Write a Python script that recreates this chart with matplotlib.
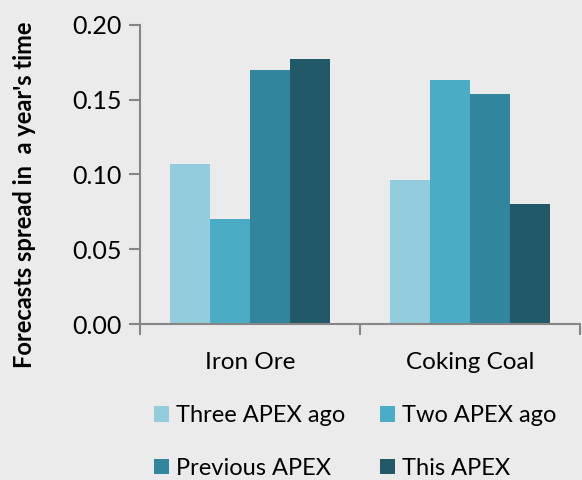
import matplotlib
matplotlib.use("Agg")
import matplotlib.pyplot as plt
import numpy as np
from matplotlib.patches import Patch

categories = ["Iron Ore", "Coking Coal"]
series_names = ["Three APEX ago", "Two APEX ago", "Previous APEX", "This APEX"]
three_ago = [0.107, 0.0963]
two_ago = [0.0702, 0.1632]
previous = [0.1697, 0.1538]
this_apex = [0.177, 0.0805]
yticks = [0.00, 0.05, 0.10, 0.15, 0.20]
colors = ["#93CDDD", "#4BACC6", "#31859C", "#215968"]

plt.rcParams['font.family'] = ['Lato', 'DejaVu Sans']
bg = "#EBEBEB"
fig = plt.figure(figsize=(5.82, 4.8), dpi=100, facecolor=bg)
ax = fig.add_axes([0.2405, 0.325, 0.7561, 0.623])
ax.set_facecolor(bg)

series = [three_ago, two_ago, previous, this_apex]
x = np.arange(len(categories))
w = 0.1818
for i, (vals, c, name) in enumerate(zip(series, colors, series_names)):
    ax.bar(x + (i - 1.5) * w, vals, width=w, color=c, label=name, linewidth=0)

ax.set_xlim(-0.5, len(categories) - 0.5)
ax.set_ylim(0, 0.20)
ax.set_yticks(yticks)
ax.set_yticklabels([f"{v:.2f}" for v in yticks])
ax.set_xticks([-0.5, 0.5, 1.5])
ax.set_xticklabels([])
ax.set_xticks(x, minor=True)
ax.set_xticklabels(categories, minor=True)
ax.tick_params(axis='x', which='minor', length=0, pad=20, labelsize=17.5)
ax.tick_params(axis='x', which='major', length=8, width=1.5, color="#868686", direction='out')
ax.tick_params(axis='y', length=8, width=1.5, color="#868686", labelsize=18, pad=5)
for s in ['top', 'right']:
    ax.spines[s].set_visible(False)
for s in ['left', 'bottom']:
    ax.spines[s].set_color("#868686")
    ax.spines[s].set_linewidth(1.5)

ax.set_ylabel("Forecasts spread in  a year's time", fontsize=17, fontweight='bold')
ax.yaxis.set_label_coords(-0.237, 0.431)

order = [0, 2, 1, 3]
handles = [Patch(facecolor=colors[i], edgecolor='none') for i in order]
labels = [series_names[i] for i in order]
fig.legend(handles, labels, loc='upper left', bbox_to_anchor=(154 / 582, 1 - 405 / 480),
           ncol=2, frameon=False, fontsize=17, handlelength=0.64, handleheight=0.64,
           handletextpad=0.3, columnspacing=1.45, labelspacing=1.35,
           borderpad=0, borderaxespad=0)

fig.savefig("out.png", dpi=100, facecolor=bg)
